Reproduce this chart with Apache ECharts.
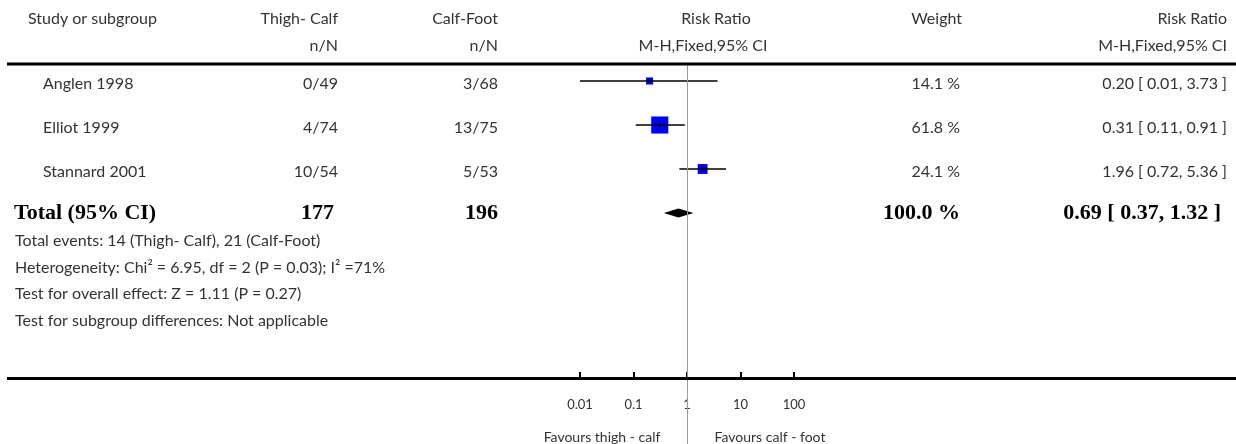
<!DOCTYPE html>
<html>
<head>
<meta charset="utf-8">
<script src="https://cdn.jsdelivr.net/npm/echarts@6/dist/echarts.min.js"></script>
<style>
html,body{margin:0;padding:0;background:#fff;}
#chart{width:1236px;height:444px;}
</style>
</head>
<body>
<div id="chart"></div>
<script>
// ---------- data ----------
const studies = ['Anglen 1998', 'Elliot 1999', 'Stannard 2001'];
const group1Events = ['0/49', '4/74', '10/54'];
const group2Events = ['3/68', '13/75', '5/53'];
const riskRatio = [0.20, 0.31, 1.96];
const ciLow = [0.01, 0.11, 0.72];
const ciHigh = [3.73, 0.91, 5.36];
const weights = [14.1, 61.8, 24.1];

const totalLabel = 'Total (95% CI)';
const totalN1 = 177;
const totalN2 = 196;
const totalRR = 0.69;
const totalLow = 0.37;
const totalHigh = 1.32;
const totalWeight = 100.0;

const headerRow1 = ['Study or subgroup', 'Thigh- Calf', 'Calf-Foot', 'Risk Ratio', 'Weight', 'Risk Ratio'];
const headerRow2 = ['', 'n/N', 'n/N', 'M-H,Fixed,95% CI', '', 'M-H,Fixed,95% CI'];

const footnotes = [
  'Total events: 14 (Thigh- Calf), 21 (Calf-Foot)',
  'Heterogeneity: Chi\u00B2 = 6.95, df = 2 (P = 0.03); I\u00B2 =71%',
  'Test for overall effect: Z = 1.11 (P = 0.27)',
  'Test for subgroup differences: Not applicable'
];

const tickLabels = ['0.01', '0.1', '1', '10', '100'];
const favoursLeft = 'Favours thigh - calf';
const favoursRight = 'Favours calf - foot';

// ---------- chart ----------
const FONT = 'Lato';
const TXT = '#333333';
const REG = '16px ' + FONT;
const BOLD = 'bold 22px "Liberation Serif"';
const chart = echarts.init(document.getElementById('chart'), null, {renderer: 'canvas'});

const studyData = riskRatio.map((v, i) => [v, i, ciLow[i], ciHigh[i], weights[i]]);
const totalRow = studies.length;

function fmt2(v) { return v.toFixed(2); }

chart.setOption({
  animation: false,
  grid: [
    {left: 580, width: 214, top: 64, bottom: 0},
    {left: 580, width: 214, top: 300, height: 78}
  ],
  xAxis: [
    {type: 'log', logBase: 10, min: 0.01, max: 100, gridIndex: 0, show: false},
    {type: 'log', logBase: 10, min: 0.01, max: 100, gridIndex: 1,
     axisLine: {show: false},
     axisTick: {show: true, inside: true, length: 6, lineStyle: {color: '#000', width: 2}},
     axisLabel: {margin: 20, fontSize: 13, color: TXT, fontFamily: FONT,
       formatter: (v, idx) => tickLabels[idx] !== undefined ? tickLabels[idx] : ''},
     splitLine: {show: false}}
  ],
  yAxis: [
    {type: 'value', gridIndex: 0, inverse: true, min: -17 / 44, max: -17 / 44 + 380 / 44, show: false},
    {type: 'value', gridIndex: 1, show: false}
  ],
  series: [
    {
      type: 'custom', xAxisIndex: 0, yAxisIndex: 0, clip: false, z: 3,
      encode: {x: 0, y: 1},
      data: studyData,
      renderItem: function (params, api) {
        const row = api.value(1);
        const est = api.coord([api.value(0), row]);
        const l = api.coord([api.value(2), row]);
        const h = api.coord([api.value(3), row]);
        const s = 2.44 * Math.sqrt(api.value(4)) - 2.1;
        return {type: 'group', children: [
          {type: 'rect', shape: {x: est[0] - s / 2, y: est[1] - s / 2, width: s, height: s}, style: {fill: '#0000ff'}},
          {type: 'line', shape: {x1: l[0], y1: l[1], x2: h[0], y2: h[1]}, style: {stroke: '#000', lineWidth: 1.4}},
          {type: 'line', shape: {x1: est[0], y1: est[1] - 2.5, x2: est[0], y2: est[1] + 2.5}, style: {stroke: '#000', lineWidth: 1.2}}
        ]};
      }
    },
    {
      type: 'custom', xAxisIndex: 0, yAxisIndex: 0, clip: false, z: 3,
      encode: {x: 0, y: 1},
      data: [[totalRR, totalRow, totalLow, totalHigh]],
      renderItem: function (params, api) {
        const row = api.value(1);
        const est = api.coord([api.value(0), row]);
        const l = api.coord([api.value(2), row]);
        const h = api.coord([api.value(3), row]);
        const hh = 4.5;
        return {type: 'polygon', shape: {points: [[l[0], l[1]], [est[0], est[1] - hh], [h[0], h[1]], [est[0], est[1] + hh]]},
          style: {fill: '#000'}};
      },
      markLine: {
        silent: true, symbol: 'none', label: {show: false},
        lineStyle: {color: '#9a9a9a', type: 'solid', width: 1},
        data: [{xAxis: 1}]
      }
    }
  ]
});

// ---------- table text ----------
function rowY(i) { return chart.convertToPixel({yAxisIndex: 0}, i); }

const g = [];
function txt(text, x, y, align, opts) {
  opts = opts || {};
  g.push({
    type: 'text', z: 10, silent: true,
    x: x, y: y,
    style: {
      text: text,
      fill: opts.fill || TXT,
      font: opts.font || REG,
      align: align, textAlign: align,
      verticalAlign: 'middle', textVerticalAlign: 'middle'
    }
  });
}

// column anchors
const colStudyHead = 28, colStudy = 43, colN1 = 338, colN2 = 498, colRR = 716, colMH = 703, colW = 962, colWv = 960, colCI = 1227;

// header
const h1 = 19, h2 = 46;
txt(headerRow1[0], colStudyHead, h1, 'left');
txt(headerRow1[1], colN1, h1, 'right');
txt(headerRow1[2], colN2, h1, 'right');
txt(headerRow1[3], colRR, h1, 'center');
txt(headerRow1[4], colW, h1, 'right');
txt(headerRow1[5], colCI, h1, 'right');
txt(headerRow2[1], colN1, h2, 'right');
txt(headerRow2[2], colN2, h2, 'right');
txt(headerRow2[3], colMH, h2, 'center');
txt(headerRow2[5], colCI, h2, 'right');

// study rows
studies.forEach((s, i) => {
  const y = rowY(i) + 3;
  txt(s, colStudy, y, 'left');
  txt(group1Events[i], colN1, y, 'right');
  txt(group2Events[i], colN2, y, 'right');
  txt(weights[i].toFixed(1) + ' %', colWv, y, 'right');
  txt(fmt2(riskRatio[i]) + ' [ ' + fmt2(ciLow[i]) + ', ' + fmt2(ciHigh[i]) + ' ]', colCI, y, 'right');
});

// total row
const ty = rowY(totalRow);
txt(totalLabel, 14, ty, 'left', {font: BOLD, fill: '#000'});
txt(String(totalN1), 334, ty, 'right', {font: BOLD, fill: '#000'});
txt(String(totalN2), colN2, ty, 'right', {font: BOLD, fill: '#000'});
txt(totalWeight.toFixed(1) + ' %', colWv, ty, 'right', {font: BOLD, fill: '#000'});
txt(fmt2(totalRR) + ' [ ' + fmt2(totalLow) + ', ' + fmt2(totalHigh) + ' ]', 1221, ty, 'right', {font: BOLD, fill: '#000'});

// footnotes
const footY = [241, 267.5, 294, 321];
footnotes.forEach((f, i) => txt(f, 15, footY[i], 'left'));

// favours labels
const x1 = chart.convertToPixel({xAxisIndex: 1}, 1);
txt(favoursLeft, x1 - 85, 437, 'center', {font: '14px ' + FONT});
txt(favoursRight, x1 + 83, 437, 'center', {font: '14px ' + FONT});

// rules
g.push({type: 'line', z: 20, silent: true, shape: {x1: 7, y1: 64, x2: 1236, y2: 64}, style: {stroke: '#000', lineWidth: 3}});
g.push({type: 'line', z: 20, silent: true, shape: {x1: 7, y1: 378.5, x2: 1236, y2: 378.5}, style: {stroke: '#000', lineWidth: 3}});

chart.setOption({graphic: g});
</script>
</body>
</html>
